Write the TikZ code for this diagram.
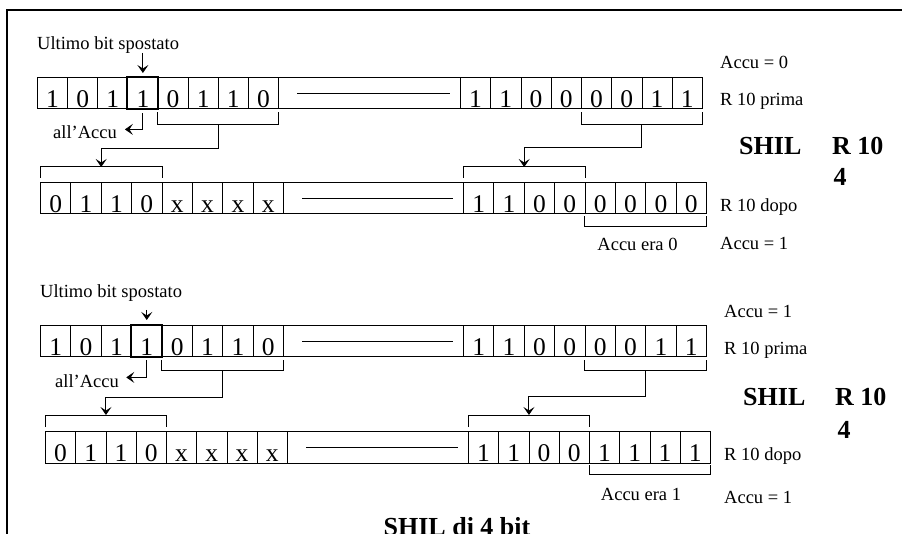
\documentclass[tikz,border=0pt]{standalone}
\usepackage{fontspec}
\setmainfont{Liberation Serif}
\usetikzlibrary{calc,arrows.meta}
\newcommand\digfont{\fontsize{25.5}{30}\selectfont}
\newcommand\lblfont{\fontsize{18.5}{22}\selectfont}
\newcommand\bigfont{\fontsize{26}{30}\selectfont\bfseries}
% #1 name, #2 ytop, #3 xA, #4 wA, #5 xB, #6 wB, #7 digits A, #8 digits B
\newcommand\bitrow[8]{%
  \foreach \d [count=\i] in {#7}
    \node[cell, minimum width=#4pt] (#1a\i) at ({#3+(\i-1)*#4}, #2) {\d};
  \foreach \d [count=\i] in {#8}
    \node[cell, minimum width=#6pt] (#1b\i) at ({#5+(\i-1)*#6}, #2) {\d};
  \pgfmathsetmacro\lw{#5-(#3+8*#4)}
  \node[longbox, minimum width=\lw pt] (#1L) at ({#3+8*#4}, #2) {};
  \draw[conn] ([xshift=19pt]#1L.west) -- ([xshift=-11pt]#1L.east);
}
% bracket: #1 left anchor, #2 right anchor, #3 gap, #4 depth, #5 name of middle
\newcommand\brk[5]{%
  \draw[conn] ($(#1)+(0,#3)$) -- ($(#1)+(0,#4)$) -- ($(#2)+(0,#4)$) -- ($(#2)+(0,#3)$);
  \coordinate (#5) at ($(#1)!0.5!(#2)+(0,#4)$);
}
\begin{document}
\begin{tikzpicture}[x=1pt,y=-1pt,
  cell/.style={draw, line width=0.9pt, inner sep=0pt, minimum height=31.5pt,
    text height=28.5pt, text depth=0pt, anchor=north west, font=\digfont},
  longbox/.style={draw, line width=0.9pt, inner sep=0pt, minimum height=31.5pt, anchor=north west},
  lbl/.style={font=\lblfont, inner sep=0pt},
  big/.style={font=\bigfont, inner sep=0pt},
  conn/.style={line width=1pt},
  arr/.style={line width=1pt, -{Stealth[length=8pt,width=11pt,inset=3.5pt]}},
  boldcell/.style={line width=2pt},
  frame/.style={line width=2pt}]

\useasboundingbox (0,0) rectangle (902,534);
\draw[frame] (7,560) -- (7,10) -- (920,10);

% ---------- panel 1 ----------
\bitrow{r1}{77}{37}{30.125}{460}{30.25}{1,0,1,1,0,1,1,0}{1,1,0,0,0,0,1,1}
\draw[boldcell] (r1a4.north west) rectangle (r1a4.south east);
\bitrow{r2}{182}{40}{30.375}{463}{30.375}{0,1,1,0,x,x,x,x}{1,1,0,0,0,0,0,0}

\node[lbl, anchor=base west] (u1) at (37,50) {Ultimo bit spostato};
\draw[arr] ($(r1a4.north)+(0,-24)$) -- ($(r1a4.north)+(0,-4)$);
\node[lbl, anchor=base west] (ac1) at (53,139) {all'Accu};
\draw[arr] ($(r1a4.south)+(0,4)$) -- ($(r1a4.south)+(0,20)$) -- ($(r1a4.south)+(-18,20)$);

\brk{r1a5.south west}{r1a8.south east}{3}{15}{k1}
\brk{r1b5.south west}{r1b8.south east}{3}{15}{k3}
\brk{r2a1.north west}{r2a4.north east}{-4}{-15}{k2}
\brk{r2b1.north west}{r2b4.north east}{-4}{-15}{k4}
\brk{r2b5.south west}{r2b8.south east}{2}{12}{k9}
\draw[arr] (k1) -- ++(0,24) -| (k2);
\draw[arr] (k3) -- ++(0,23) -| (k4);

\node[lbl, anchor=base west] (a0) at (720,69) {Accu = 0};
\node[lbl, anchor=base west] (p1) at (720,106) {R 10 prima};
\node[big, anchor=base west] (s1) at (739,155) {SHIL};
\node[big, anchor=base west] (q1) at (832,155) {R 10};
\node[big, anchor=base] (f1) at (840,186) {4};
\node[lbl, anchor=base west] (d1) at (720,212) {R 10 dopo};
\node[lbl, anchor=base west] (a1) at (720,250) {Accu = 1};
\node[lbl, anchor=base] (e0) at (637.5,251) {Accu era 0};

% ---------- panel 2 ----------
\bitrow{r3}{325}{40}{30.375}{463}{30.375}{1,0,1,1,0,1,1,0}{1,1,0,0,0,0,1,1}
\draw[boldcell] (r3a4.north west) rectangle (r3a4.south east);
\bitrow{r4}{431}{45}{30.25}{468}{30.25}{0,1,1,0,x,x,x,x}{1,1,0,0,1,1,1,1}

\node[lbl, anchor=base west] (u2) at (40,298) {Ultimo bit spostato};
\draw[arr] ($(r3a4.north)+(0,-15)$) -- ($(r3a4.north)+(0,-5)$);
\node[lbl, anchor=base west] (ac2) at (55,388) {all'Accu};
\draw[arr] ($(r3a4.south)+(0,3)$) -- ($(r3a4.south)+(0,20)$) -- ($(r3a4.south)+(-20.5,20)$);

\brk{r3a5.south west}{r3a8.south east}{3}{13}{k5}
\brk{r3b5.south west}{r3b8.south east}{3}{13}{k7}
\brk{r4a1.north west}{r4a4.north east}{-4}{-16}{k6}
\brk{r4b1.north west}{r4b4.north east}{-4}{-16}{k8}
\brk{r4b5.south west}{r4b8.south east}{2}{11}{k10}
\draw[arr] (k5) -- ++(0,27) -| (k6);
\draw[arr] (k7) -- ++(0,26) -| (k8);

\node[lbl, anchor=base west] (a2) at (724,318) {Accu = 1};
\node[lbl, anchor=base west] (p2) at (724,355) {R 10 prima};
\node[big, anchor=base west] (s2) at (743,406) {SHIL};
\node[big, anchor=base west] (q2) at (835,406) {R 10};
\node[big, anchor=base] (f2) at (844,438) {4};
\node[lbl, anchor=base west] (d2) at (724,460) {R 10 dopo};
\node[lbl, anchor=base west] (a3) at (724,503) {Accu = 1};
\node[lbl, anchor=base] (e1) at (641,500) {Accu era 1};

\node[big, anchor=base] (title) at (457,535) {SHIL di 4 bit};
\end{tikzpicture}
\end{document}
